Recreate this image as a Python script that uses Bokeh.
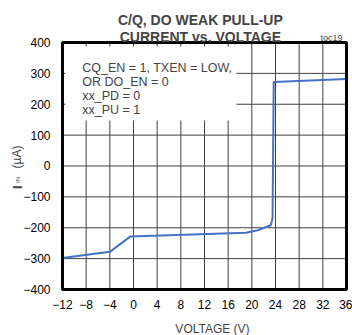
import math
from bokeh.plotting import figure
from bokeh.models import Range1d, Label, FixedTicker
from bokeh.embed import file_html
from bokeh.resources import INLINE

# data
voltage = [-12, -4, -0.5, 19, 21, 23.2, 23.5, 23.7, 36]
current = [-298, -278, -228, -216, -208, -192, -170, 272, 282]

x_ticks = [-12, -8, -4, 0, 4, 8, 12, 16, 20, 24, 28, 32, 36]
y_ticks = [-400, -300, -200, -100, 0, 100, 200, 300, 400]

title_lines = ["C/Q, DO WEAK PULL-UP", "CURRENT vs. VOLTAGE"]
note_lines = ["CQ_EN = 1, TXEN = LOW,", "OR DO_EN = 0", "xx_PD = 0", "xx_PU = 1"]

FONT = "Liberation Sans"
XMIN, XMAX = x_ticks[0], x_ticks[-1]
YMIN, YMAX = y_ticks[0], y_ticks[-1]
X0, X1 = -22.479, 37.014
Y0, Y1 = -548.99, 536.03

# the frame spans the whole canvas; axes are placed with fixed_location
p = figure(width=352, height=335, output_backend="svg", toolbar_location=None,
           x_range=Range1d(X0, X1), y_range=Range1d(Y0, Y1),
           min_border=0, min_border_left=0, min_border_right=0,
           min_border_top=0, min_border_bottom=0)
p.title = None
p.outline_line_color = None
p.background_fill_color = "white"
p.border_fill_color = "white"
p.grid.visible = False

p.xaxis.ticker = FixedTicker(ticks=x_ticks)
p.yaxis.ticker = FixedTicker(ticks=y_ticks)
p.xaxis.fixed_location = YMIN
p.yaxis.fixed_location = XMIN
p.xaxis.bounds = (XMIN, XMAX)
p.yaxis.bounds = (YMIN, YMAX)
for ax in (p.xaxis, p.yaxis):
    ax.major_tick_out = 0
    ax.major_tick_in = 0
    ax.minor_tick_out = 0
    ax.minor_tick_in = 0
    ax.axis_line_color = None
    ax.major_label_text_font = FONT
    ax.major_label_text_font_size = "12px"
    ax.major_label_text_color = "black"
p.xaxis.major_label_standoff = 11
p.yaxis.major_label_standoff = 12

# grid lines limited to the plotting area
p.segment(x0=x_ticks, x1=x_ticks, y0=[YMIN] * len(x_ticks), y1=[YMAX] * len(x_ticks),
          line_color="#404040", line_width=1)
p.segment(x0=[XMIN] * len(y_ticks), x1=[XMAX] * len(y_ticks), y0=y_ticks, y1=y_ticks,
          line_color="#404040", line_width=1)

# white note box hiding the grid in the upper left
p.quad(left=-11.5, right=17.4, bottom=147, top=387, fill_color="white", line_color=None)

p.line(voltage, current, line_color="#4472C4", line_width=2)

# plot border
p.quad(left=XMIN, right=XMAX, bottom=YMIN, top=YMAX, fill_color=None,
       line_color="black", line_width=3)

# note text
note_y = [316.8, 271.4, 228.3, 182.0]
for t, yy in zip(note_lines, note_y):
    p.add_layout(Label(x=-8.67, y=yy, text=t, text_font=FONT, text_font_size="12.5px",
                       text_baseline="alphabetic", text_align="left"))

# title
for t, yy in zip(title_lines, [473.5, 416.5]):
    p.add_layout(Label(x=11.3, y=yy, text=t, text_font=FONT, text_font_size="14px",
                       text_font_style="bold", text_baseline="alphabetic", text_align="center",
                       level="overlay"))
p.add_layout(Label(x=31.6, y=413.9, text="toc19", text_font=FONT,
                   text_font_size="9px", text_baseline="alphabetic", text_align="left"))

# x axis title
p.add_layout(Label(x=13.35, y=-527, text="VOLTAGE (V)", text_font=FONT,
                   text_font_size="12px", text_baseline="alphabetic", text_align="center"))

# y axis title I_IN (µA)
p.add_layout(Label(x=-19.69, y=-74.5, text="I", text_font=FONT, text_font_size="13px",
                   text_font_style="bold", text_baseline="alphabetic", text_align="left",
                   angle=math.pi / 2))
p.add_layout(Label(x=-19.6, y=-55, text="IN", text_font=FONT, text_font_size="6px",
                   text_baseline="alphabetic", text_align="left", angle=math.pi / 2))
p.add_layout(Label(x=-19.69, y=-8, text="(µA)", text_font=FONT, text_font_size="12px",
                   text_baseline="alphabetic", text_align="left", angle=math.pi / 2))

open("out.html", "w").write(file_html(p, INLINE))
